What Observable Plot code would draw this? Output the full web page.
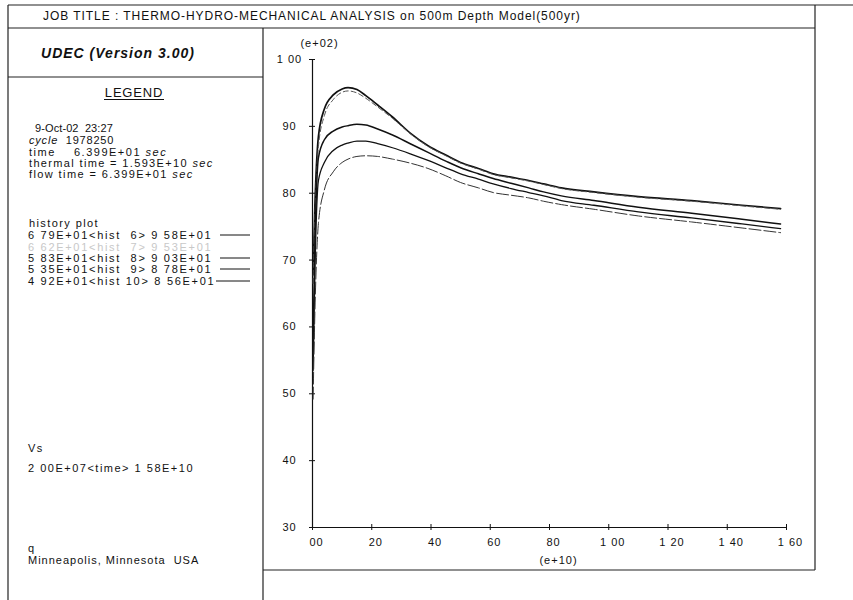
<!DOCTYPE html>
<html>
<head>
<meta charset="utf-8">
<script src="https://cdn.jsdelivr.net/npm/d3@7"></script>
<script src="https://cdn.jsdelivr.net/npm/@observablehq/plot@0.6"></script>
<style>
  html, body { margin: 0; padding: 0; background: white; }
  svg text { white-space: pre; }
</style>
</head>
<body>
<div id="chart"></div>
<script>
// ---- data ----
const seriesNames = ["hist 6", "hist 7", "hist 8", "hist 9", "hist 10"];
const times = [0.2, 0.8, 2, 4, 7, 10, 12, 15, 18, 22, 27, 33, 39, 45, 50, 56, 61, 67, 73, 78, 84, 95, 110, 128, 145, 158];
const hist6  = [67.9, 78.0, 88.5, 92.6, 94.7, 95.6, 95.8, 95.5, 94.6, 93.2, 91.4, 89.0, 87.1, 85.7, 84.6, 83.7, 82.9, 82.4, 81.9, 81.4, 80.8, 80.2, 79.5, 78.9, 78.2, 77.7];
const hist7  = [66.5, 76.0, 87.0, 91.6, 94.0, 95.1, 95.3, 95.0, 94.2, 92.9, 91.2, 88.9, 87.0, 85.6, 84.5, 83.6, 82.8, 82.3, 81.8, 81.3, 80.7, 80.1, 79.4, 78.8, 78.1, 77.6];
const hist8  = [58.3, 72.0, 85.3, 88.0, 89.3, 89.9, 90.1, 90.3, 90.2, 89.6, 88.7, 87.4, 86.1, 84.8, 83.8, 82.9, 82.2, 81.5, 80.8, 80.2, 79.6, 78.9, 77.9, 77.0, 76.1, 75.4];
const hist9  = [53.5, 68.0, 81.9, 84.6, 86.4, 87.2, 87.5, 87.8, 87.8, 87.4, 86.8, 85.9, 84.9, 83.8, 82.9, 82.1, 81.4, 80.7, 80.1, 79.6, 78.9, 78.2, 77.2, 76.3, 75.4, 74.7];
const hist10 = [49.2, 62.0, 75.5, 80.5, 83.2, 84.6, 85.1, 85.5, 85.6, 85.5, 85.1, 84.5, 83.7, 82.6, 81.6, 80.8, 80.1, 79.7, 79.3, 78.8, 78.3, 77.6, 76.6, 75.7, 74.8, 74.1];

const xTicks = [0, 20, 40, 60, 80, 100, 120, 140, 160];
const xTickLabels = ["00", "20", "40", "60", "80", "1 00", "1 20", "1 40", "1 60"];
const yTicks = [30, 40, 50, 60, 70, 80, 90, 100];
const yTickLabels = ["30", "40", "50", "60", "70", "80", "90", "1 00"];

const titleText = "JOB TITLE : THERMO-HYDRO-MECHANICAL ANALYSIS on 500m Depth Model(500yr)";
const legendRows = [
  "6 79E+01<hist  6> 9 58E+01",
  "6 62E+01<hist  7> 9 53E+01",
  "5 83E+01<hist  8> 9 03E+01",
  "5 35E+01<hist  9> 8 78E+01",
  "4 92E+01<hist 10> 8 56E+01"
];

// ---- build table ----
const allSeries = [hist6, hist7, hist8, hist9, hist10];
const table = [];
allSeries.forEach((vals, s) => vals.forEach((v, i) => table.push({series: seriesNames[s], t: times[i], v})));
const bySeries = name => table.filter(d => d.series === name);

const styles = {
  "hist 6":  {stroke: "#111", strokeWidth: 1.7},
  "hist 7":  {stroke: "#555", strokeWidth: 1.0, strokeDasharray: "5,3"},
  "hist 8":  {stroke: "#111", strokeWidth: 1.5},
  "hist 9":  {stroke: "#111", strokeWidth: 1.3},
  "hist 10": {stroke: "#333", strokeWidth: 1.0, strokeDasharray: "12,3"}
};

const ink = "#111";
const plot = Plot.plot({
  width: 853,
  height: 600,
  marginLeft: 312,
  marginRight: 67,
  marginTop: 59,
  marginBottom: 73,
  style: {fontFamily: "'Liberation Sans', Arial, sans-serif", fontSize: "11px", background: "white", color: ink},
  x: {domain: [0, 160], axis: null},
  y: {domain: [30, 100], axis: null},
  marks: [
    Plot.ruleX([0], {y1: 30, y2: 100, stroke: ink, strokeWidth: 1.2}),
    Plot.ruleY([30], {x1: 0, x2: 160, stroke: ink, strokeWidth: 1.2}),
    Plot.ruleY(yTicks, {y: d => d, x1: 0, x2: 0, insetLeft: -3, insetRight: -3, stroke: ink}),
    Plot.ruleX(xTicks, {x: d => d, y1: 30, y2: 30, insetTop: -3, insetBottom: -3, stroke: ink}),
    Plot.text(yTicks, {x: 0, y: d => d, text: (d, i) => yTickLabels[i], dx: -23, fill: ink, fontSize: 11}),
    Plot.text(xTicks, {x: d => d, y: 30, text: (d, i) => xTickLabels[i], dx: 4, dy: 15, fill: ink, fontSize: 11}),
    Plot.text(["(e+02)"], {x: 0, y: 100, text: d => d, dx: 7, dy: -16, fill: ink, fontSize: 11}),
    Plot.text(["(e+10)"], {x: 80, y: 30, text: d => d, dx: 9, dy: 33, fill: ink, fontSize: 11}),
    ...seriesNames.map(name => Plot.line(bySeries(name), {x: "t", y: "v", curve: "monotone-x", ...styles[name]}))
  ]
});
plot.style.letterSpacing = "1px";
document.getElementById("chart").appendChild(plot);

// ---- frame and side panel ----
const svg = d3.select(plot);
const g = svg.append("g")
  .attr("font-family", "'Liberation Sans', Arial, sans-serif")
  .attr("text-anchor", "start")
  .attr("fill", ink);
const frame = [
  [8, 5, 853, 5], [8, 28, 815, 28], [8, 5, 8, 600], [263, 28, 263, 600],
  [815, 5, 815, 570], [263, 570, 815, 570], [8, 77, 263, 77]
];
g.selectAll("line.frame").data(frame).join("line")
  .attr("x1", d => d[0]).attr("y1", d => d[1]).attr("x2", d => d[2]).attr("y2", d => d[3])
  .attr("stroke", "#222").attr("stroke-width", 1.2);

function txt(x, y, s, opts = {}) {
  const t = g.append("text").attr("x", x).attr("y", y).text(s)
    .attr("font-size", opts.size || 11)
    .attr("text-anchor", opts.anchor || "start")
    .attr("fill", opts.fill || ink)
    .style("letter-spacing", (opts.ls != null ? opts.ls : 1.4) + "px");
  if (opts.weight) t.attr("font-weight", opts.weight);
  if (opts.style) t.attr("font-style", opts.style);
  return t;
}
txt(43, 20, titleText, {size: 12, ls: 0.95});
txt(118, 58, "UDEC (Version 3.00)", {size: 14, weight: "bold", style: "italic", anchor: "middle", ls: 1});
txt(134, 97, "LEGEND", {size: 13, anchor: "middle", ls: 0.8});
g.append("line").attr("x1", 104).attr("x2", 164).attr("y1", 99.5).attr("y2", 99.5).attr("stroke", ink);

txt(35, 132, "9-Oct-02  23:27", {ls: 0.1});
const cyc = txt(29, 144, "", {ls: 0.8});
cyc.append("tspan").attr("font-style", "italic").text("cycle");
cyc.append("tspan").text("  1978250");
const tm = txt(29, 156, "", {ls: 1.5});
tm.append("tspan").text("time    6.399E+01 ");
tm.append("tspan").attr("font-style", "italic").text("sec");
const th = txt(29, 167, "", {ls: 1.35});
th.append("tspan").text("thermal time = 1.593E+10 ");
th.append("tspan").attr("font-style", "italic").text("sec");
const fl = txt(29, 178, "", {ls: 1.4});
fl.append("tspan").text("flow time = 6.399E+01 ");
fl.append("tspan").attr("font-style", "italic").text("sec");

txt(29, 227, "history plot");
const rowY = [239, 251, 262, 273, 285];
legendRows.forEach((r, i) => {
  txt(28, rowY[i], r, {fill: i === 1 ? "#c8c8c8" : ink, ls: 1.7});
  if (i !== 1) {
    g.append("line").attr("x1", i === 4 ? 216 : 220).attr("x2", 250)
      .attr("y1", rowY[i] - 4).attr("y2", rowY[i] - 4)
      .attr("stroke", ink).attr("stroke-width", 1);
  }
});

txt(28, 452, "Vs");
txt(28, 472, "2 00E+07<time> 1 58E+10", {ls: 1.5});
txt(28, 552, "q");
txt(28, 564, "Minneapolis, Minnesota  USA", {ls: 1.0});
</script>
</body>
</html>
